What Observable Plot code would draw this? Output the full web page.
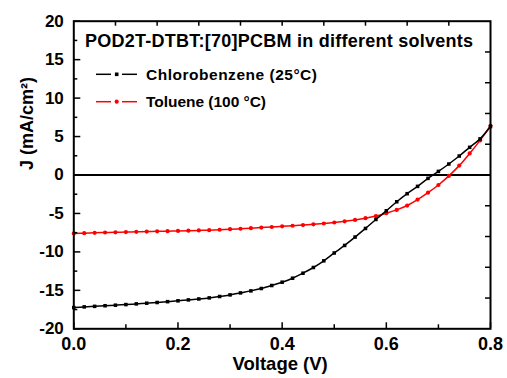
<!DOCTYPE html>
<html><head><meta charset="utf-8">
<script src="https://cdn.jsdelivr.net/npm/d3@7"></script>
<script src="https://cdn.jsdelivr.net/npm/@observablehq/plot@0.6"></script>
<style>body{margin:0;background:#fff}</style>
</head><body><div id="chart"></div>
<script>
const voltage = [0.00,0.02,0.04,0.06,0.08,0.10,0.12,0.14,0.16,0.18,0.20,0.22,0.24,0.26,0.28,0.30,0.32,0.34,0.36,0.38,0.40,0.42,0.44,0.46,0.48,0.50,0.52,0.54,0.56,0.58,0.60,0.62,0.64,0.66,0.68,0.70,0.72,0.74,0.76,0.78,0.80];
const chlorobenzene = [-17.24,-17.15,-17.08,-17.00,-16.93,-16.85,-16.76,-16.67,-16.58,-16.47,-16.36,-16.24,-16.12,-15.98,-15.80,-15.59,-15.33,-15.07,-14.76,-14.37,-13.94,-13.42,-12.77,-12.03,-11.16,-10.14,-9.16,-8.07,-6.95,-5.78,-4.65,-3.48,-2.43,-1.48,-0.44,0.47,1.43,2.47,3.60,4.70,6.30];
const toluene = [-7.60,-7.56,-7.52,-7.48,-7.45,-7.42,-7.39,-7.36,-7.33,-7.30,-7.27,-7.24,-7.21,-7.17,-7.12,-7.05,-6.99,-6.92,-6.84,-6.76,-6.68,-6.60,-6.51,-6.42,-6.31,-6.18,-6.02,-5.84,-5.62,-5.34,-4.97,-4.54,-3.97,-3.20,-2.30,-1.30,-0.12,1.22,2.80,4.50,6.40];
const seriesNames = ["Chlorobenzene (25°C)", "Toluene (100 °C)"];
const seriesColors = ["#000000", "#ff0000"];
const xTicks = [0.0,0.2,0.4,0.6,0.8];
const xMinor = [0.1,0.3,0.5,0.7];
const yTicks = [-20,-15,-10,-5,0,5,10,15,20];
const yMinor = [-17.5,-12.5,-7.5,-2.5,2.5,7.5,12.5,17.5];
const topTicks = [0.08,0.16,0.24,0.32,0.40,0.48,0.56,0.64,0.72];
const rightTicks = [-16,-12,-8,-4,0,4,8,12,16];
const titleText = "POD2T-DTBT:[70]PCBM in different solvents";
const xLabel = "Voltage (V)";
const yLabel = "J (mA/cm²)";

const W = 507, H = 378, mL = 73.3, mR = 17, mT = 20.7, mB = 49.7;
const pw = W - mL - mR, ph = H - mT - mB;
const font = "'Liberation Sans', Arial, sans-serif";
const rows = voltage.map((v, i) => ({v, cb: chlorobenzene[i], tol: toluene[i]}));

const plot = Plot.plot({
  width: W, height: H,
  marginLeft: mL, marginRight: mR, marginTop: mT, marginBottom: mB,
  style: {fontFamily: font, fontWeight: "bold", background: "#fff", color: "#000", overflow: "visible"},
  x: {domain: [0, 0.8]},
  y: {domain: [-20, 20]},
  marks: [
    Plot.ruleY([0], {stroke: "#000", strokeWidth: 2}),
    Plot.line(rows, {x: "v", y: "tol", stroke: seriesColors[1], strokeWidth: 1.5, curve: "catmull-rom"}),
    Plot.dot(rows, {x: "v", y: "tol", r: 2.1, fill: seriesColors[1], symbol: "circle"}),
    Plot.line(rows, {x: "v", y: "cb", stroke: seriesColors[0], strokeWidth: 1.5, curve: "catmull-rom"}),
    Plot.dot(rows, {x: "v", y: "cb", r: 2, fill: seriesColors[0], symbol: "square"}),
    Plot.tickY(yTicks, {y: d => d, insetRight: pw - 7, stroke: "#000", strokeWidth: 1.5}),
    Plot.tickY(yMinor, {y: d => d, insetRight: pw - 4, stroke: "#000", strokeWidth: 1.5}),
    Plot.tickX(xTicks, {x: d => d, insetTop: ph - 6, stroke: "#000", strokeWidth: 1.5}),
    Plot.tickX(xMinor, {x: d => d, insetTop: ph - 4, stroke: "#000", strokeWidth: 1.5}),
    Plot.tickX(topTicks, {x: d => d, insetBottom: ph - 5, stroke: "#000", strokeWidth: 1.5}),
    Plot.tickY(rightTicks, {y: d => d, insetLeft: pw - 5, stroke: "#000", strokeWidth: 1.5}),
    Plot.axisX({ticks: xTicks, tickSize: 0, tickPadding: 8, tickFormat: d3.format(".1f"), fontSize: 18, label: null}),
    Plot.axisY({ticks: yTicks, tickSize: 0, tickPadding: 10, tickFormat: d => String(d), fontSize: 17, label: null}),
    Plot.frame({stroke: "#000", strokeWidth: 2}),
    Plot.text([xLabel], {frameAnchor: "bottom", dx: -2, dy: 41, fontSize: 18.5, fontWeight: "bold", fill: "#000"}),
    Plot.text([yLabel], {frameAnchor: "left", rotate: -90, dx: -47, dy: -5, fontSize: 18, fontWeight: "bold", fill: "#000"})
  ]
});
document.getElementById("chart").appendChild(plot);

const svg = d3.select(plot);
const deco = svg.append("g").attr("font-family", font).attr("font-weight", "bold")
  .attr("fill", "#000").attr("text-anchor", "start");
deco.append("text").attr("x", 85).attr("y", 46.5).attr("font-size", 18).attr("text-anchor", "start")
  .attr("textLength", 388).attr("lengthAdjust", "spacing").text(titleText);
const legendY = [74.3, 101.7];
const legendLen = [171, 120];
seriesNames.forEach((name, i) => {
  const y = legendY[i];
  deco.append("text").attr("x", 146).attr("y", y + 5.4).attr("font-size", 15.5).attr("text-anchor", "start")
    .attr("textLength", legendLen[i]).attr("lengthAdjust", "spacing").text(name);
  deco.append("line").attr("x1", 96).attr("x2", 111).attr("y1", y).attr("y2", y).attr("stroke", seriesColors[i]).attr("stroke-width", 1.5);
  deco.append("line").attr("x1", 122).attr("x2", 137).attr("y1", y).attr("y2", y).attr("stroke", seriesColors[i]).attr("stroke-width", 1.5);
  if (i === 0) deco.append("rect").attr("x", 114.9).attr("y", y - 1.8).attr("width", 3.6).attr("height", 3.6).attr("fill", seriesColors[i]);
  else deco.append("circle").attr("cx", 116.7).attr("cy", y).attr("r", 2.1).attr("fill", seriesColors[i]);
});
</script>
</body></html>
